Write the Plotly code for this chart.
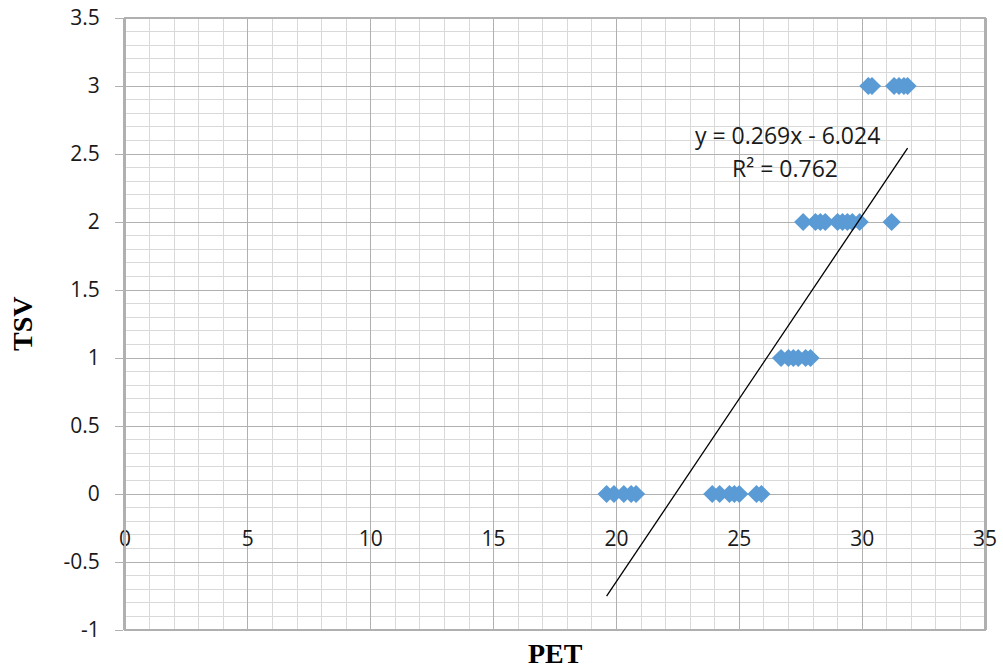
import plotly.graph_objects as go

# PET values grouped by thermal sensation vote
pet_tsv0 = [19.6, 19.9, 20.3, 20.6, 20.8, 23.9, 24.2, 24.6, 24.8, 25.0, 25.7, 25.9]
pet_tsv1 = [26.7, 27.0, 27.2, 27.4, 27.7, 27.9]
pet_tsv2 = [27.6, 28.1, 28.3, 28.5, 29.0, 29.2, 29.4, 29.6, 29.9, 31.2]
pet_tsv3 = [30.25, 30.4, 31.3, 31.5, 31.7, 31.85]

pet = pet_tsv0 + pet_tsv1 + pet_tsv2 + pet_tsv3
tsv = [0] * len(pet_tsv0) + [1] * len(pet_tsv1) + [2] * len(pet_tsv2) + [3] * len(pet_tsv3)

# Linear trendline as reported
slope = 0.269
intercept = -6.024
r2 = 0.762

x_ticks = [0, 5, 10, 15, 20, 25, 30, 35]
y_ticks = [-1, -0.5, 0, 0.5, 1, 1.5, 2, 2.5, 3, 3.5]

txt = "#1a1a1a"
major = "#b0b0b0"
minor = "#d9d9d9"
tick_font = dict(family="Open Sans", size=21, color=txt)
eq_font = dict(family="Open Sans", size=23, color=txt)

fig = go.Figure()

fig.add_trace(go.Scatter(
    x=pet, y=tsv, mode="markers",
    marker=dict(symbol="diamond", size=14, color="#5b9bd5", line=dict(width=0)),
    showlegend=False, hoverinfo="x+y",
))

x_line = [min(pet), max(pet)]
fig.add_trace(go.Scatter(
    x=x_line, y=[slope * v + intercept for v in x_line],
    mode="lines", line=dict(color="black", width=1.3),
    showlegend=False, hoverinfo="skip",
))

y_min, y_max = -1, 3.5
zero_pos = (0 - y_min) / (y_max - y_min)
plot_w, plot_h = 860, 612

fig.update_layout(
    width=1003, height=671,
    margin=dict(l=125, r=18, t=18, b=41, autoexpand=False),
    paper_bgcolor="white", plot_bgcolor="white",
    font=dict(family="Open Sans", size=18, color=txt),
    xaxis=dict(
        range=[0, 35], tickvals=x_ticks, ticktext=[str(v) for v in x_ticks],
        anchor="free", position=zero_pos, automargin=False,
        showgrid=True, gridcolor=major, gridwidth=1,
        minor=dict(dtick=1, showgrid=True, gridcolor=minor, gridwidth=1),
        showline=False, zeroline=False, ticks="", ticklabelstandoff=30,
        tickfont=tick_font,
    ),
    yaxis=dict(
        range=[y_min, y_max], tickvals=y_ticks, ticktext=[f"{v:g}" for v in y_ticks],
        automargin=False,
        showgrid=True, gridcolor=major, gridwidth=1,
        minor=dict(dtick=0.1, showgrid=True, gridcolor=minor, gridwidth=1),
        showline=True, linecolor=major, linewidth=2, mirror=True,
        zeroline=False, ticks="outside", ticklen=8, tickcolor=major, tickwidth=1,
        ticklabelstandoff=11,
        tickfont=tick_font,
    ),
    shapes=[
        dict(type="rect", xref="paper", yref="paper", x0=0, x1=1, y0=0, y1=1,
             line=dict(color=major, width=2), layer="above"),
    ],
    annotations=[
        dict(x=26.95, y=2.64, xref="x", yref="y", showarrow=False,
             text=f"y = {slope}x - {abs(intercept):.3f}", font=eq_font),
        dict(x=26.85, y=2.40, xref="x", yref="y", showarrow=False,
             text=f"R² = {r2}", font=eq_font),
        dict(x=0.5, y=-23 / plot_h, xref="paper", yref="paper",
             xanchor="center", yanchor="middle",
             showarrow=False, text="<b>PET</b>",
             font=dict(family="Liberation Serif", size=28, color="black")),
        dict(x=-103 / plot_w, y=0.5, xref="paper", yref="paper",
             xanchor="center", yanchor="middle",
             showarrow=False, text="<b>TSV</b>", textangle=-90,
             font=dict(family="Liberation Serif", size=28, color="black")),
    ],
)

fig.write_html("out.html")
